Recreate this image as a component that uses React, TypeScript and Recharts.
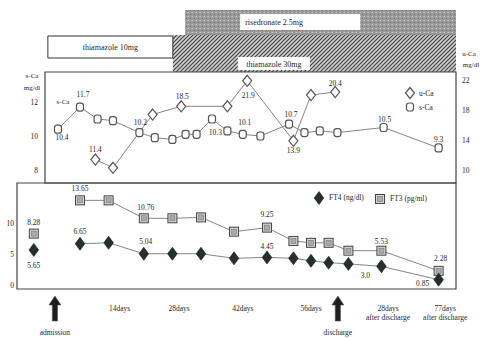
import React from 'react';
import { ComposedChart, Line, XAxis, YAxis, ReferenceArea, LabelList, Legend } from 'recharts';

// timeline position: days from admission during the stay, post-discharge visits as spaced in the figure
const sCaTime = [0, 5, 9, 12.5, 18.5, 22, 26, 29, 31.5, 35, 38.5, 42, 46, 52.5, 56, 59.5, 63.5, 74, 86.5];
const sCaValues = [10.4, 11.7, 11.0, 10.9, 10.2, 9.9, 9.8, 10.1, 10.1, 11.0, 10.3, 10.1, 10.0, 10.7, 10.2, 10.3, 10.2, 10.5, 9.3];
const sCaLabels = ['10.4', '11.7', '', '', '10.2', '', '', '', '', '', '10.3', '10.1', '', '10.7', '', '', '', '10.5', '9.3'];

const uCaTime = [8.5, 12.5, 21.5, 28, 38.5, 43, 53.5, 57.5, 63];
const uCaValues = [11.4, 10.3, 17.4, 18.5, 18.5, 21.9, 13.9, 20.0, 20.4];
const uCaLabels = ['11.4', '', '', '18.5', '', '21.9', '13.9', '', '20.4'];

const ftTime = [5, 11.5, 19.5, 26, 32.5, 40, 47.5, 53.5, 57.5, 61.5, 66, 73.5, 86.5];
const ft3Values = [13.65, 13.65, 10.76, 10.76, 10.9, 8.6, 9.25, 7.1, 6.8, 6.8, 5.53, 5.53, 2.28];
const ft4Values = [6.65, 6.8, 5.04, 5.04, 5.04, 4.3, 4.45, 4.3, 3.9, 3.6, 3.4, 3.0, 0.85];
const ft3Labels = ['13.65', '', '10.76', '', '', '', '9.25', '', '', '', '', '5.53', '2.28'];
const ft4Labels = ['6.65', '', '5.04', '', '', '', '4.45', '', '', '', '', '3.0', '0.85'];

// measured before admission
const preTime = [-5.5];
const preFt3 = [8.28];
const preFt4 = [5.65];

const treatmentNames = ['thiamazole 10mg', 'thiamazole 30mg', 'risedronate 2.5mg'];
const treatmentStart = [-2.3, 26.1, 28.9];
const treatmentEnd = [26.1, 90.45, 90.45];

const xTickPos = [-0.7, 14, 27.5, 42, 57.5, 63.6, 75, 88];
const xTickText = ['admission', '14days', '28days', '42days', '56days', 'discharge', '28days|after discharge', '77days|after discharge'];

const X_UPPER: [number, number] = [-2.95, 90.45];
const X_LOWER: [number, number] = [-9.32, 90.45];
const SCA_DOMAIN: [number, number] = [7.24, 13.76];
const UCA_DOMAIN: [number, number] = [8.27, 23.07];
const FT_DOMAIN: [number, number] = [-0.65, 16.45];

const FONT = '"Liberation Serif", "DejaVu Serif", serif';
const TXT = '#262626';
const LINE = '#858585';
const FS = 7.5;

const sCaData = sCaTime.map((t, i) => ({ t, v: sCaValues[i], label: sCaLabels[i] }));
const uCaData = uCaTime.map((t, i) => ({ t, v: uCaValues[i], label: uCaLabels[i] }));
const ft3Data = ftTime.map((t, i) => ({ t, v: ft3Values[i], label: ft3Labels[i] }));
const ft4Data = ftTime.map((t, i) => ({ t, v: ft4Values[i], label: ft4Labels[i] }));
const preFt3Data = preTime.map((t, i) => ({ t, v: preFt3[i], label: String(preFt3[i]) }));
const preFt4Data = preTime.map((t, i) => ({ t, v: preFt4[i], label: String(preFt4[i]) }));
const treatmentRows = treatmentNames.map((name, i) => ({ t: treatmentStart[i], name }));

// label offsets from the point, by index
const sCaOff: Record<number, [number, number]> = {
  0: [4, 11], 1: [3, -10], 4: [1, -8], 10: [-12, 4], 11: [2, -9], 13: [2, -7], 17: [1, -6], 18: [0, -6],
};
const uCaOff: Record<number, [number, number]> = { 0: [0, -8], 3: [1, -7], 5: [1, 17], 6: [0, 12], 8: [0, -6] };
const ft3Off: Record<number, [number, number]> = { 0: [0, -9], 2: [2, -8], 6: [0, -11], 11: [0, -7], 12: [2, -10] };
const ft4Off: Record<number, [number, number]> = { 0: [0, -10], 2: [2, -10], 6: [0, -8], 11: [-16, 12], 12: [-16, 6] };

const makeLabel = (off: Record<number, [number, number]>, def: [number, number]) => (p: any) => {
  const { x, y, value, index } = p;
  if (!value) return null;
  const [dx, dy] = off[index] ?? def;
  return (
    <text x={x + dx} y={y + dy} textAnchor="middle" fontSize={FS} fill={TXT} fontFamily={FONT}>
      {value}
    </text>
  );
};

const roundSq = (cx: number, cy: number, key?: any) => (
  <rect key={key} x={cx - 3.5} y={cy - 4} width={7} height={8} rx={2.5} fill="#fff" stroke="#555" strokeWidth={1.2} />
);
const openDiamond = (cx: number, cy: number, key?: any) => (
  <path key={key} d={`M${cx},${cy - 5.5}L${cx + 4.5},${cy}L${cx},${cy + 5.5}L${cx - 4.5},${cy}Z`} fill="#fff" stroke="#555" strokeWidth={1.2} />
);
const solidDiamond = (cx: number, cy: number, key?: any) => (
  <path key={key} d={`M${cx},${cy - 6.5}L${cx + 4.8},${cy}L${cx},${cy + 6.5}L${cx - 4.8},${cy}Z`} fill="#26302b" stroke="#111" strokeWidth={0.6} />
);
const patSquare = (cx: number, cy: number, key?: any) => (
  <g key={key}>
    <rect x={cx - 4.5} y={cy - 4.5} width={9} height={9} fill="#d6d6d6" stroke="#444" strokeWidth={1} />
    <rect x={cx - 2.5} y={cy - 2.5} width={5} height={5} fill="#aaa" stroke="#777" strokeWidth={0.6} />
  </g>
);

const dotOf = (fn: (cx: number, cy: number, key?: any) => React.ReactElement, tag: string) => (p: any) => {
  if (p.cx == null || p.cy == null) return <g key={`${tag}${p.index}`} />;
  return fn(p.cx, p.cy, `${tag}${p.index}`);
};

const TreatmentLabel = (p: any, i: number) => {
  const vb = p.viewBox || {};
  const { x = 0, y = 0, width = 0, height = 0 } = vb;
  const name = treatmentNames[i];
  if (i === 0) {
    return (
      <text x={x + width / 2} y={y + height / 2 + 3} textAnchor="middle" fontSize={8} fill={TXT} fontFamily={FONT}>
        {name}
      </text>
    );
  }
  if (i === 1) {
    return (
      <g>
        <rect x={x + 65} y={y + 22} width={72} height={13} fill="#fff" />
        <text x={x + 101} y={y + 32} textAnchor="middle" fontSize={8} fill={TXT} fontFamily={FONT}>{name}</text>
      </g>
    );
  }
  return (
    <g>
      <rect x={x + 55} y={y + 4} width={120} height={16} fill="#fff" />
      <text x={x + 60} y={y + 15} fontSize={8} fill={TXT} fontFamily={FONT}>{name}</text>
    </g>
  );
};

const bandStyle = [
  { y1: 36, y2: 58, fill: '#fff', stroke: '#333' },
  { y1: 35, y2: 72, fill: 'url(#hatch)', stroke: 'none' },
  { y1: 10, y2: 35, fill: 'url(#speckle)', stroke: 'none' },
];

const XTick = (p: any) => {
  const { x, y, payload } = p;
  const i = xTickPos.indexOf(payload.value);
  const text = xTickText[i] ?? '';
  if (text === 'admission' || text === 'discharge') {
    const top = y + 7;
    return (
      <g>
        <path
          d={`M${x},${top}L${x + 6},${top + 9}L${x + 2.6},${top + 9}L${x + 2.6},${top + 25}L${x - 2.6},${top + 25}L${x - 2.6},${top + 9}L${x - 6},${top + 9}Z`}
          fill="#1e1e1e"
          stroke="#555"
          strokeWidth={0.6}
        />
        <text x={x} y={y + 46} textAnchor="middle" fontSize={FS} fill={TXT} fontFamily={FONT}>{text}</text>
      </g>
    );
  }
  const lines = text.split('|');
  return (
    <g>
      {lines.map((l, k) => (
        <text key={k} x={x} y={y + 22 + k * 9} textAnchor="middle" fontSize={FS} fill={TXT} fontFamily={FONT}>{l}</text>
      ))}
    </g>
  );
};

const UpperLegend = () => (
  <svg width={50} height={30}>
    {openDiamond(7, 7)}
    <text x={16} y={10} fontSize={FS} fill={TXT} fontFamily={FONT}>u-Ca</text>
    {roundSq(7, 21)}
    <text x={16} y={24} fontSize={FS} fill={TXT} fontFamily={FONT}>s-Ca</text>
  </svg>
);

const LowerLegend = () => (
  <svg width={140} height={18}>
    {solidDiamond(7, 8)}
    <text x={17} y={10} fontSize={FS} fill={TXT} fontFamily={FONT}>FT4 (ng/dl)</text>
    {patSquare(68, 9)}
    <text x={78} y={11} fontSize={FS} fill={TXT} fontFamily={FONT}>FT3 (pg/ml)</text>
  </svg>
);

const tickStyle = { fontSize: FS, fill: TXT, fontFamily: FONT };

export default function App() {
  return (
    <div style={{ position: 'absolute', left: 0, top: 0, width: 482, height: 338, background: '#fff', overflow: 'hidden' }}>
      <svg width={0} height={0} style={{ position: 'absolute' }}>
        <defs>
          <pattern id="hatch" width={4} height={4} patternUnits="userSpaceOnUse">
            <rect width={4} height={4} fill="#cfcfcf" />
            <path d="M0,4L4,0M-1,1L1,-1M3,5L5,3" stroke="#454545" strokeWidth={1.2} />
          </pattern>
          <pattern id="speckle" width={4} height={4} patternUnits="userSpaceOnUse">
            <rect width={4} height={4} fill="#999" />
            <rect x={0} y={0} width={1} height={1} fill="#c4c4c4" />
            <rect x={2} y={2} width={1} height={1} fill="#707070" />
            <rect x={3} y={0} width={1} height={1} fill="#b0b0b0" />
          </pattern>
        </defs>
      </svg>

      {/* treatment bands */}
      <div style={{ position: 'absolute', left: 0, top: 0 }}>
        <ComposedChart width={482} height={72} data={treatmentRows} margin={{ top: 0, right: 26, left: 45, bottom: 0 }}>
          <XAxis hide type="number" dataKey="t" domain={X_UPPER} allowDataOverflow />
          <YAxis hide type="number" domain={[0, 72]} reversed allowDataOverflow />
          {[1, 2, 0].map((i) => (
            <ReferenceArea
              key={i}
              x1={treatmentStart[i]}
              x2={treatmentEnd[i]}
              y1={bandStyle[i].y1}
              y2={bandStyle[i].y2}
              fill={bandStyle[i].fill}
              fillOpacity={1}
              stroke={bandStyle[i].stroke}
              strokeWidth={1}
              ifOverflow="visible"
              label={(p: any) => TreatmentLabel(p, i)}
            />
          ))}
        </ComposedChart>
      </div>

      {/* serum / urine calcium */}
      <div style={{ position: 'absolute', left: 0, top: 71 }}>
        <ComposedChart width={482} height={113} margin={{ top: 1, right: 0, left: 0, bottom: 1 }}>
          <XAxis hide type="number" dataKey="t" domain={X_UPPER} allowDataOverflow />
          <YAxis yAxisId="left" type="number" width={45} domain={SCA_DOMAIN} ticks={[8, 10, 12]} allowDataOverflow
            axisLine={false} tickLine={false} tickSize={0} tickMargin={7} tick={tickStyle} />
          <YAxis yAxisId="right" orientation="right" type="number" width={26} domain={UCA_DOMAIN} ticks={[10, 14, 18, 22]} allowDataOverflow
            axisLine={false} tickLine={false} tickSize={0} tickMargin={6} tick={tickStyle} />
          <ReferenceArea yAxisId="left" x1={X_UPPER[0]} x2={X_UPPER[1]} y1={SCA_DOMAIN[0]} y2={SCA_DOMAIN[1]}
            fill="none" stroke="#444" strokeWidth={1.2} ifOverflow="visible" />
          <Line yAxisId="right" data={uCaData} dataKey="v" stroke={LINE} strokeWidth={1} dot={dotOf(openDiamond, 'u')}
            activeDot={false} isAnimationActive={false}>
            <LabelList dataKey="label" content={makeLabel(uCaOff, [0, -8])} />
          </Line>
          <Line yAxisId="left" data={sCaData} dataKey="v" stroke={LINE} strokeWidth={1} dot={dotOf(roundSq, 's')}
            activeDot={false} isAnimationActive={false}>
            <LabelList dataKey="label" content={makeLabel(sCaOff, [0, -8])} />
          </Line>
          <Legend layout="horizontal" verticalAlign="middle" align="center" content={UpperLegend}
            wrapperStyle={{ left: 403, top: 15, width: 50, height: 30 }} />
        </ComposedChart>
      </div>

      {/* thyroid hormones */}
      <div style={{ position: 'absolute', left: 0, top: 182 }}>
        <ComposedChart width={482} height={156} margin={{ top: 1, right: 26, left: 0, bottom: 0 }}>
          <XAxis type="number" dataKey="t" domain={X_LOWER} allowDataOverflow ticks={xTickPos} interval={0}
            axisLine={false} tickLine={false} tickSize={0} tickMargin={0} height={49} tick={XTick} />
          <YAxis type="number" width={17} domain={FT_DOMAIN} ticks={[0, 5, 10]} allowDataOverflow
            axisLine={false} tickLine={false} tickSize={0} tickMargin={3} tick={tickStyle} />
          <ReferenceArea x1={X_LOWER[0]} x2={X_LOWER[1]} y1={FT_DOMAIN[0]} y2={FT_DOMAIN[1]}
            fill="none" stroke="#444" strokeWidth={1.2} ifOverflow="visible" />
          <Line data={ft3Data} dataKey="v" stroke={LINE} strokeWidth={1} dot={dotOf(patSquare, 'f3')}
            activeDot={false} isAnimationActive={false}>
            <LabelList dataKey="label" content={makeLabel(ft3Off, [0, -9])} />
          </Line>
          <Line data={ft4Data} dataKey="v" stroke={LINE} strokeWidth={1} dot={dotOf(solidDiamond, 'f4')}
            activeDot={false} isAnimationActive={false}>
            <LabelList dataKey="label" content={makeLabel(ft4Off, [0, -10])} />
          </Line>
          <Line data={preFt3Data} dataKey="v" stroke="none" dot={dotOf(patSquare, 'p3')} activeDot={false} isAnimationActive={false}>
            <LabelList dataKey="label" content={makeLabel({}, [0, -9])} />
          </Line>
          <Line data={preFt4Data} dataKey="v" stroke="none" dot={dotOf(solidDiamond, 'p4')} activeDot={false} isAnimationActive={false}>
            <LabelList dataKey="label" content={makeLabel({}, [0, 18])} />
          </Line>
          <Legend layout="horizontal" verticalAlign="middle" align="center" content={LowerLegend}
            wrapperStyle={{ left: 312, top: 8, width: 140, height: 18 }} />
        </ComposedChart>
      </div>

      {/* axis titles and series note */}
      <svg width={482} height={338} style={{ position: 'absolute', left: 0, top: 0, pointerEvents: 'none' }}>
        <text x={32} y={78} textAnchor="middle" fontSize={7} fill={TXT} fontFamily={FONT}>s-Ca</text>
        <text x={32} y={90} textAnchor="middle" fontSize={7} fill={TXT} fontFamily={FONT}>mg/dl</text>
        <text x={469} y={56} textAnchor="middle" fontSize={7} fill={TXT} fontFamily={FONT}>u-Ca</text>
        <text x={471} y={67} textAnchor="middle" fontSize={7} fill={TXT} fontFamily={FONT}>mg/dl</text>
        <text x={63} y={104} textAnchor="middle" fontSize={7} fill={TXT} fontFamily={FONT}>s-Ca</text>
      </svg>
    </div>
  );
}
